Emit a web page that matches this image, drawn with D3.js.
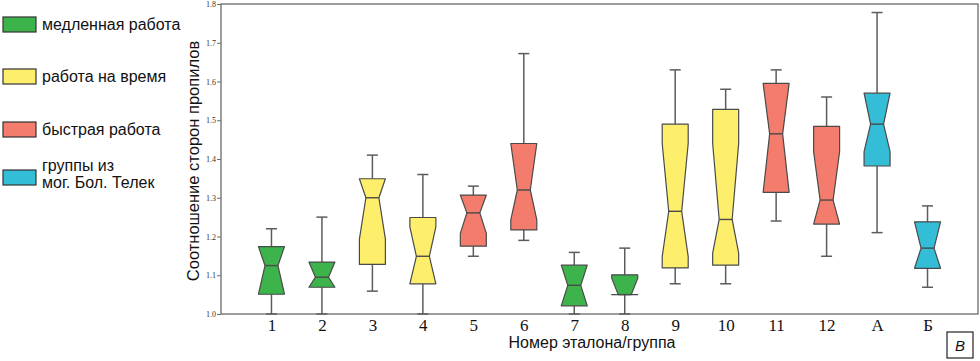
<!DOCTYPE html>
<html>
<head>
<meta charset="utf-8">
<script src="https://cdn.jsdelivr.net/npm/d3@7"></script>
<style>
body { margin: 0; background: #fff; }
svg { display: block; }
</style>
</head>
<body>
<svg id="chart"></svg>
<script>
const categories = ["1", "2", "3", "4", "5", "6", "7", "8", "9", "10", "11", "12", "А", "Б"];
const groupOf = ["slow", "slow", "time", "time", "fast", "fast", "slow", "slow", "time", "time", "fast", "fast", "mog", "mog"];

const whiskerLow  = [1.0, 1.0, 1.059, 1.0, 1.149, 1.19, 1.0, 1.0, 1.078, 1.078, 1.24, 1.149, 1.21, 1.069];
const q1          = [1.051, 1.069, 1.128, 1.078, 1.175, 1.217, 1.021, 1.05, 1.119, 1.126, 1.314, 1.232, 1.382, 1.118];
const median      = [1.125, 1.095, 1.30, 1.149, 1.261, 1.32, 1.074, 1.05, 1.265, 1.244, 1.465, 1.294, 1.49, 1.17];
const q3          = [1.174, 1.134, 1.349, 1.249, 1.307, 1.44, 1.126, 1.101, 1.49, 1.528, 1.595, 1.484, 1.57, 1.238];
const whiskerHigh = [1.22, 1.25, 1.41, 1.36, 1.33, 1.672, 1.159, 1.17, 1.63, 1.58, 1.63, 1.56, 1.778, 1.279];
const notchLow    = [1.051, 1.069, 1.193, 1.078, 1.208, 1.243, 1.021, 1.05, 1.148, 1.157, 1.314, 1.232, 1.419, 1.118];
const notchHigh   = [1.174, 1.134, 1.349, 1.225, 1.307, 1.44, 1.126, 1.092, 1.44, 1.44, 1.595, 1.419, 1.57, 1.238];

const legendKeys = ["slow", "time", "fast", "mog"];
const legendLabels = [["медленная работа"], ["работа на время"], ["быстрая работа"], ["группы из", "мог. Бол. Телек"]];
const legendColors = ["#3cb44b", "#fdee6b", "#f47c6c", "#33bdd6"];
const yTicks = [1.0, 1.1, 1.2, 1.3, 1.4, 1.5, 1.6, 1.7, 1.8];

const w = 980, h = 361;
const pLeft = 221, pRight = 978, pTop = 4, pBottom = 314;

const svg = d3.select("#chart").attr("width", w).attr("height", h);

const color = d3.scaleOrdinal().domain(legendKeys).range(legendColors);
const xScale = d3.scalePoint().domain(categories).range([pLeft, pRight]).padding(1);
const yScale = d3.scaleLinear().domain([1.0, 1.8]).range([pBottom, pTop]);

const boxes = categories.map((c, i) => ({
  cat: c, grp: groupOf[i], lo: whiskerLow[i], q1: q1[i], med: median[i],
  q3: q3[i], hi: whiskerHigh[i], nlo: notchLow[i], nhi: notchHigh[i]
}));

// frame
svg.append("rect").attr("x", pLeft).attr("y", pTop).attr("width", pRight - pLeft).attr("height", pBottom - pTop)
  .attr("fill", "none").attr("stroke", "#6b6b6b").attr("stroke-width", 1.3);

// y axis
const axisY = d3.axisLeft(yScale).tickValues(yTicks).tickFormat(d3.format(".1f")).tickSize(4).tickPadding(1);
const gy = svg.append("g").attr("transform", "translate(" + pLeft + ",0)").call(axisY);
gy.select(".domain").remove();
gy.selectAll(".tick line").attr("stroke", "#6b6b6b");
gy.selectAll(".tick text").attr("font-family", "Liberation Serif, serif").attr("font-size", 8).attr("fill", "#333");

// x axis labels
const axisX = d3.axisBottom(xScale).tickSize(0).tickPadding(5);
const gx = svg.append("g").attr("transform", "translate(0," + pBottom + ")").call(axisX);
gx.select(".domain").remove();
gx.selectAll(".tick text").attr("font-family", "Liberation Serif, serif").attr("font-size", 17).attr("fill", "#111");

const bw = 13, nw = 6.5, cw = 5.5;

const g = svg.selectAll(".box").data(boxes).enter().append("g").attr("class", "box");

// whiskers
g.append("line").attr("x1", d => xScale(d.cat)).attr("x2", d => xScale(d.cat))
  .attr("y1", d => yScale(d.hi)).attr("y2", d => yScale(d.q3))
  .attr("stroke", "#5c5c5c").attr("stroke-width", 1.5);
g.append("line").attr("x1", d => xScale(d.cat)).attr("x2", d => xScale(d.cat))
  .attr("y1", d => yScale(d.q1)).attr("y2", d => yScale(d.lo))
  .attr("stroke", "#5c5c5c").attr("stroke-width", 1.5);
g.append("line").attr("x1", d => xScale(d.cat) - cw).attr("x2", d => xScale(d.cat) + cw)
  .attr("y1", d => yScale(d.hi)).attr("y2", d => yScale(d.hi))
  .attr("stroke", "#5c5c5c").attr("stroke-width", 1.5);
g.append("line").attr("x1", d => xScale(d.cat) - cw).attr("x2", d => xScale(d.cat) + cw)
  .attr("y1", d => yScale(d.lo)).attr("y2", d => yScale(d.lo))
  .attr("stroke", "#5c5c5c").attr("stroke-width", 1.5);

// notched boxes
g.append("path")
  .attr("d", d => {
    const x = xScale(d.cat);
    const pts = [
      [x - bw, yScale(d.q3)], [x + bw, yScale(d.q3)], [x + bw, yScale(d.nhi)],
      [x + nw, yScale(d.med)], [x + bw, yScale(d.nlo)], [x + bw, yScale(d.q1)],
      [x - bw, yScale(d.q1)], [x - bw, yScale(d.nlo)], [x - nw, yScale(d.med)],
      [x - bw, yScale(d.nhi)]
    ];
    return d3.line()(pts) + "Z";
  })
  .attr("fill", d => color(d.grp)).attr("stroke", "#4a4a4a").attr("stroke-width", 1.2)
  .attr("stroke-linejoin", "round");

g.append("line").attr("x1", d => xScale(d.cat) - nw).attr("x2", d => xScale(d.cat) + nw)
  .attr("y1", d => yScale(d.med)).attr("y2", d => yScale(d.med))
  .attr("stroke", "#4a4a4a").attr("stroke-width", 1.4);

// axis titles
svg.append("text").attr("transform", "translate(199,161) rotate(-90)")
  .attr("text-anchor", "middle").attr("font-family", "Liberation Sans, Arial, sans-serif")
  .attr("font-size", 16.5).attr("fill", "#111").text("Соотношение сторон пропилов");
svg.append("text").attr("x", 592).attr("y", 348).attr("text-anchor", "middle")
  .attr("font-family", "Liberation Sans, Arial, sans-serif").attr("font-size", 16).attr("fill", "#111")
  .text("Номер эталона/группа");

// legend
const legendY = [17, 69, 122, 170];
const lg = svg.selectAll(".legend").data(legendKeys).enter().append("g").attr("class", "legend")
  .attr("transform", (d, i) => "translate(3," + legendY[i] + ")");
lg.append("rect").attr("width", 33).attr("height", 15).attr("fill", d => color(d))
  .attr("stroke", "#333").attr("stroke-width", 1.2);
lg.each(function(d, i) {
  const lines = legendLabels[i];
  const t = d3.select(this).append("text").attr("font-family", "Liberation Sans, Arial, sans-serif")
    .attr("font-size", 16).attr("fill", "#111");
  lines.forEach((s, j) => {
    t.append("tspan").attr("x", 39).attr("y", (lines.length > 1 ? 1 : 13) + j * 17).text(s);
  });
});

// panel letter
svg.append("rect").attr("x", 947).attr("y", 332).attr("width", 26).attr("height", 26)
  .attr("fill", "none").attr("stroke", "#222").attr("stroke-width", 1.2);
svg.append("text").attr("x", 960).attr("y", 351).attr("text-anchor", "middle")
  .attr("font-family", "Liberation Sans, Arial, sans-serif").attr("font-style", "italic")
  .attr("font-size", 15).attr("fill", "#111").text("В");
</script>
</body>
</html>
